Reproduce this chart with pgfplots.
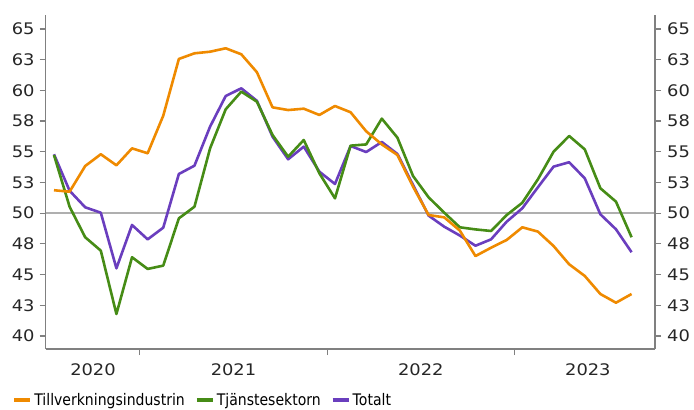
\documentclass[border=0pt]{standalone}
\usepackage{fontspec}
\setmainfont{DejaVu Sans}
\newfontfamily\tickfont[FakeStretch=1.12]{DejaVu Sans}
\newfontfamily\legendfont[FakeStretch=0.88]{DejaVu Sans}
\usepackage{pgfplots}
\usepackage{pgfplotstable}
\pgfplotsset{compat=1.18}

\definecolor{pmiorange}{RGB}{239,138,0}
\definecolor{pmigreen}{RGB}{70,140,22}
\definecolor{pmipurple}{RGB}{106,62,190}
\definecolor{spine}{RGB}{128,128,128}
\definecolor{refline}{RGB}{175,175,175}

% Monthly PMI readings, Jul 2020 (idx 0) to Aug 2023 (idx 37)
\pgfplotstableread{
idx manuf serv total
0  51.87 54.74 54.80
1  51.75 50.53 51.83
2  53.84 48.04 50.48
3  54.80 46.95 50.04
4  53.90 41.79 45.51
5  55.28 46.41 49.04
6  54.88 45.46 47.87
7  57.94 45.73 48.82
8  62.56 49.58 53.19
9  63.02 50.53 53.87
10 63.15 55.28 57.05
11 63.43 58.46 59.54
12 62.94 59.90 60.17
13 61.48 59.08 59.15
14 58.62 56.37 56.23
15 58.40 54.60 54.39
16 58.51 55.96 55.42
17 58.00 53.25 53.38
18 58.73 51.21 52.38
19 58.22 55.50 55.47
20 56.67 55.60 54.98
21 55.60 57.70 55.80
22 54.74 56.15 54.82
23 52.16 53.03 52.30
24 49.85 51.29 49.80
25 49.66 50.04 48.90
26 48.58 48.85 48.18
27 46.51 48.68 47.35
28 47.19 48.55 47.87
29 47.82 49.85 49.31
30 48.85 50.85 50.40
31 48.50 52.76 52.11
32 47.33 55.00 53.79
33 45.84 56.29 54.15
34 44.89 55.20 52.84
35 43.42 52.03 49.91
36 42.71 50.94 48.69
37 43.42 48.04 46.82
}\pmidata

\pgfplotsset{
  pmibase/.style={
    scale only axis,
    width=609.3bp, height=334bp,
    at={(0,0)}, anchor=south west,
    xmin=-0.53, xmax=38.5,
    ymin=38.94, ymax=66.14,
    ytick={40,42.5,45,47.5,50,52.5,55,57.5,60,62.5,65},
    yticklabels={40,43,45,48,50,53,55,58,60,63,65},
    tick align=outside,
    major tick length=6bp,
    axis line style={draw=spine, line width=1.4bp},
    tick style={draw=spine, line width=1.2bp},
    tick label style={font=\fontsize{16}{18}\tickfont, text=black!85},
  },
  pmiline/.style={line width=2.6bp, line join=round},
}

\begin{document}
\begin{tikzpicture}
\useasboundingbox (-45.7bp,-61bp) rectangle (648.3bp,349bp);

\begin{axis}[
  pmibase,
  axis x line*=bottom,
  axis y line*=left,
  yticklabel style={anchor=east, inner sep=0pt, xshift=-5bp},
  xtick={5.5,17.5,29.5},
  xticklabels={,,},
  extra x ticks={2.5,11.5,23.5,34.2},
  extra x tick labels={2020,2021,2022,2023},
  extra x tick style={major tick length=0pt,
    tick label style={anchor=base, inner sep=0pt, yshift=-26.7bp}},
  legend columns=3,
  legend cell align=left,
  legend image code/.code={\draw[line width=4bp] (0bp,0bp) -- (16bp,0bp);},
  legend style={draw=none, fill=none, at={(-0.0548,-0.152)}, anchor=west,
    inner sep=0pt, outer sep=0pt,
    font=\fontsize{16}{18}\legendfont,
    nodes={inner sep=0pt},
    /tikz/every odd column/.append style={column sep=2bp},
    /tikz/every even column/.append style={column sep=10bp}},
]
\addlegendimage{pmiorange}
\addlegendentry{Tillverkningsindustrin}
\addlegendimage{pmigreen}
\addlegendentry{Tjänstesektorn}
\addlegendimage{pmipurple}
\addlegendentry{Totalt}

% neutral 50 level
\addplot[refline, line width=1.5bp, forget plot] coordinates {(-0.53,50) (38.5,50)};

\addplot[pmiline, pmipurple, forget plot] table[x=idx, y=total] {\pmidata};
\addplot[pmiline, pmigreen, forget plot] table[x=idx, y=serv] {\pmidata};
\addplot[pmiline, pmiorange, forget plot] table[x=idx, y=manuf] {\pmidata};
\end{axis}

% right-hand scale
\begin{axis}[
  pmibase,
  axis x line=none,
  axis y line*=right,
  yticklabel style={anchor=west, inner sep=0pt, xshift=6bp},
]
\end{axis}
\end{tikzpicture}
\end{document}
